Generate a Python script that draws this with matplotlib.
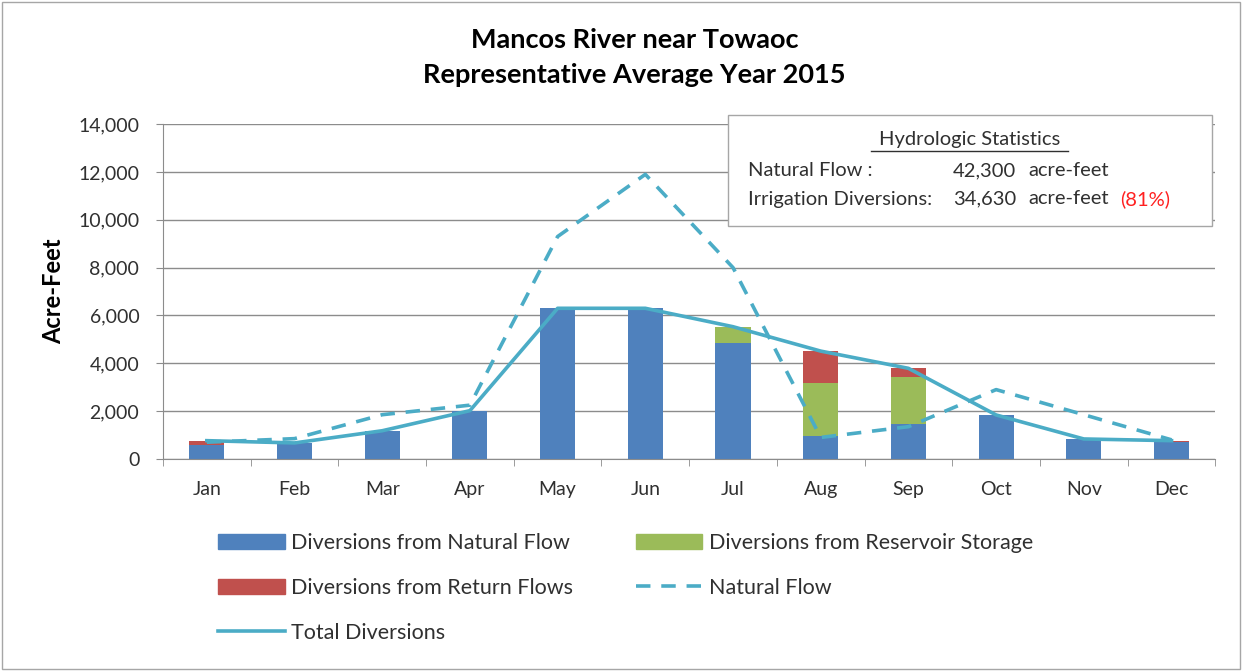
import numpy as np
import matplotlib
matplotlib.use("Agg")
import matplotlib.pyplot as plt
from matplotlib.patches import Patch, Rectangle
from matplotlib.lines import Line2D

plt.rcParams['font.family'] = ['Lato', 'DejaVu Sans']

months = ['Jan', 'Feb', 'Mar', 'Apr', 'May', 'Jun', 'Jul', 'Aug', 'Sep', 'Oct', 'Nov', 'Dec']
div_natural = [600, 670, 1180, 2020, 6300, 6300, 4835, 960, 1450, 1840, 836, 700]
div_storage = [0, 0, 0, 0, 0, 0, 695, 2200, 1990, 0, 0, 0]
div_return = [165, 0, 0, 0, 0, 0, 0, 1350, 350, 0, 0, 65]
natural_flow = [700, 850, 1850, 2250, 9300, 11900, 8000, 900, 1350, 2900, 1850, 800]

total_div = [a + b + c for a, b, c in zip(div_natural, div_storage, div_return)]

c_blue = '#4F81BD'
c_green = '#9BBB59'
c_red = '#C0504D'
c_line = '#4BACC6'
c_grid = '#8C8C8C'
c_text = '#303030'

fig = plt.figure(figsize=(12.44, 6.71), dpi=100)
ax = fig.add_axes([0.131, 0.316, 0.846, 0.499])

x = np.arange(len(months))
w = 0.4
ax.bar(x, div_natural, w, color=c_blue, zorder=2)
ax.bar(x, div_storage, w, bottom=div_natural, color=c_green, zorder=2)
ax.bar(x, div_return, w, bottom=np.add(div_natural, div_storage), color=c_red, zorder=2)

ax.plot(x, natural_flow, color=c_line, lw=2.6, linestyle=(0, (4, 3)),
        solid_joinstyle='round', dash_joinstyle='round', zorder=3)
ax.plot(x, total_div, color=c_line, lw=2.6, solid_joinstyle='round', zorder=4)

ax.set_xlim(-0.5, 11.5)
ax.set_ylim(0, 14000)
ax.set_yticks(np.arange(0, 14001, 2000))
ax.set_yticklabels([f'{v:,}' for v in range(0, 14001, 2000)])
ax.set_xticks(x)
ax.set_xticklabels(months)
ax.set_xticks(np.arange(-0.5, 12, 1), minor=True)
ax.tick_params(axis='x', which='major', length=0, pad=16, labelsize=14, labelcolor=c_text)
ax.tick_params(axis='x', which='minor', length=5, color=c_grid, direction='out')
ax.tick_params(axis='y', length=5, color=c_grid, pad=12, labelsize=14, labelcolor=c_text)
ax.grid(axis='y', color=c_grid, lw=1, zorder=0)
ax.set_axisbelow(True)
for s in ['top', 'right']:
    ax.spines[s].set_visible(False)
for s in ['left', 'bottom']:
    ax.spines[s].set_color(c_grid)
ax.set_ylabel('Acre-Feet', fontsize=17, fontweight='bold', va='center')
ax.yaxis.set_label_coords(-0.104, 0.5)

fig.text(0.51, 1 - 40 / 671, 'Mancos River near Towaoc', ha='center', va='center',
         fontsize=19.5, fontweight='bold')
fig.text(0.51, 1 - 75 / 671, 'Representative Average Year 2015', ha='center', va='center',
         fontsize=19.5, fontweight='bold')

# statistics box
fs_box = 14.5
fig.add_artist(Rectangle((728 / 1244, 1 - 226 / 671), 484 / 1244, 111 / 671,
                         transform=fig.transFigure, facecolor='white', edgecolor='#A6A6A6',
                         lw=1, zorder=5))
fig.text(970 / 1244, 1 - 140 / 671, 'Hydrologic Statistics', ha='center', va='center',
         fontsize=fs_box, color=c_text, zorder=6)
fig.add_artist(Line2D([871 / 1244, 1068 / 1244], [1 - 151 / 671, 1 - 151 / 671],
                      transform=fig.transFigure, color=c_text, lw=1, zorder=6))
fig.text(748 / 1244, 1 - 171 / 671, 'Natural Flow :', ha='left', va='center',
         fontsize=fs_box, color=c_text, zorder=6)
fig.text(1016 / 1244, 1 - 171 / 671, '42,300', ha='right', va='center',
         fontsize=fs_box, color=c_text, zorder=6)
fig.text(1028 / 1244, 1 - 171 / 671, 'acre-feet', ha='left', va='center',
         fontsize=fs_box, color=c_text, zorder=6)
fig.text(748 / 1244, 1 - 199 / 671, 'Irrigation Diversions:', ha='left', va='center',
         fontsize=fs_box, color=c_text, zorder=6)
fig.text(1016 / 1244, 1 - 199 / 671, '34,630', ha='right', va='center',
         fontsize=fs_box, color=c_text, zorder=6)
fig.text(1028 / 1244, 1 - 199 / 671, 'acre-feet', ha='left', va='center',
         fontsize=fs_box, color=c_text, zorder=6)
fig.text(1120 / 1244, 1 - 199 / 671, '(81%)', ha='left', va='center', fontsize=fs_box,
         color='#FF2020', zorder=6)

# legend, filled column by column
handles = [Patch(color=c_blue), Patch(color=c_red),
           Line2D([], [], color=c_line, lw=2.6),
           Patch(color=c_green),
           Line2D([], [], color=c_line, lw=2.6, linestyle=(0, (4, 3)))]
labels = ['Diversions from Natural Flow', 'Diversions from Return Flows', 'Total Diversions',
          'Diversions from Reservoir Storage', 'Natural Flow']
leg = fig.legend(handles, labels, ncol=2, loc='upper left', bbox_to_anchor=(218 / 1244, 1 - 533 / 671),
                 frameon=False, fontsize=15.5, handlelength=3.1, handleheight=0.7,
                 handletextpad=0.3, columnspacing=2.9, labelspacing=1.15,
                 borderpad=0, borderaxespad=0)
for t in leg.get_texts():
    t.set_color(c_text)

fig.add_artist(Rectangle((0.002, 0.003), 0.995, 0.994, transform=fig.transFigure,
                         facecolor='none', edgecolor='#A6A6A6', lw=1))

fig.savefig('out.png', dpi=100)
